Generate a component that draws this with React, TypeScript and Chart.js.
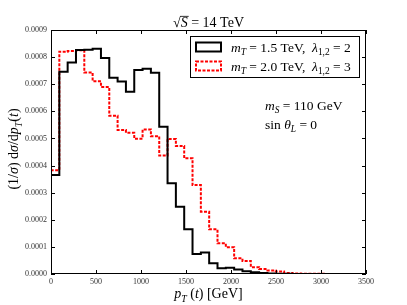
import { useEffect, useRef } from 'react';
import { Chart, registerables } from 'chart.js';

Chart.register(...registerables);

// Histogram bin width in GeV (bins start at 0)
const BIN_WIDTH = 92.5;

// m_T = 1.5 TeV, lambda = 2 (black solid)
const BLACK_VALUES = [
  0.000365, 0.000746, 0.00078, 0.000826, 0.000827, 0.000831, 0.000797, 0.000724,
  0.00071, 0.000672, 0.000752, 0.000757, 0.000742, 0.000543, 0.000335, 0.000248,
  0.000165, 0.000074, 0.000079, 0.0000395, 0.000021, 0.000023, 0.000017, 0.00001,
  0.000006, 0.000004, 0.000002, 0.000001, 0.000001, 0, 0, 0, 0, 0, 0, 0, 0, 0,
];

// m_T = 2.0 TeV, lambda = 3 (red dashed)
const RED_VALUES = [
  0.000383, 0.00082, 0.000823, 0.000825, 0.000743, 0.000711, 0.00069, 0.000584,
  0.000531, 0.000521, 0.000499, 0.000533, 0.000508, 0.000437, 0.000498, 0.000472,
  0.000427, 0.000328, 0.00023, 0.000165, 0.000113, 0.0000985, 0.000058, 0.000048,
  0.000025, 0.000018, 0.000013, 0.000009, 0.000004, 0.000002, 0.000001, 0.000001,
  0.0000005, 0, 0, 0, 0, 0,
];

const X_TICKS = [0, 500, 1000, 1500, 2000, 2500, 3000, 3500];
const Y_TICKS = [0, 0.0001, 0.0002, 0.0003, 0.0004, 0.0005, 0.0006, 0.0007, 0.0008, 0.0009];

const SERIF = '"Liberation Serif", "DejaVu Serif", serif';

type Seg = { t: string; i?: boolean; s?: boolean };

const TITLE_SEGS: Seg[] = [{ t: 'S', i: true }, { t: ' = 14 TeV' }];
const X_TITLE_SEGS: Seg[] = [
  { t: 'p', i: true }, { t: 'T', i: true, s: true }, { t: ' (' }, { t: 't', i: true }, { t: ') [GeV]' },
];
const Y_TITLE_SEGS: Seg[] = [
  { t: '(1/' }, { t: 'σ', i: true }, { t: ') d' }, { t: 'σ', i: true }, { t: '/d' },
  { t: 'p', i: true }, { t: 'T', i: true, s: true }, { t: '(' }, { t: 't', i: true }, { t: ')' },
];
const LEGEND_ROWS: Seg[][] = [
  [{ t: 'm', i: true }, { t: 'T', i: true, s: true }, { t: ' = 1.5 TeV,  ' }, { t: 'λ', i: true }, { t: '1,2', s: true }, { t: ' = 2' }],
  [{ t: 'm', i: true }, { t: 'T', i: true, s: true }, { t: ' = 2.0 TeV,  ' }, { t: 'λ', i: true }, { t: '1,2', s: true }, { t: ' = 3' }],
];
const ANNOT_ROWS: Seg[][] = [
  [{ t: 'm', i: true }, { t: 'S', i: true, s: true }, { t: ' = 110 GeV' }],
  [{ t: 'sin ' }, { t: 'θ', i: true }, { t: 'L', i: true, s: true }, { t: ' = 0' }],
];

function toSteps(values: number[]) {
  const pts: { x: number; y: number }[] = [{ x: 0, y: 0 }];
  values.forEach((v, i) => pts.push({ x: i * BIN_WIDTH, y: v }));
  pts.push({ x: values.length * BIN_WIDTH, y: values[values.length - 1] });
  pts.push({ x: values.length * BIN_WIDTH, y: 0 });
  return pts;
}

function segFont(seg: Seg, size: number) {
  return `${seg.i ? 'italic ' : ''}${seg.s ? size * 0.7 : size}px ${SERIF}`;
}

function richWidth(ctx: CanvasRenderingContext2D, segs: Seg[], size: number) {
  let w = 0;
  for (const s of segs) {
    ctx.font = segFont(s, size);
    w += ctx.measureText(s.t).width;
  }
  return w;
}

function drawRich(
  ctx: CanvasRenderingContext2D, segs: Seg[], x: number, y: number, size: number,
  align: 'left' | 'center', color = '#000'
) {
  const total = richWidth(ctx, segs, size);
  let cx = align === 'center' ? x - total / 2 : x;
  ctx.textAlign = 'left';
  ctx.textBaseline = 'alphabetic';
  ctx.fillStyle = color;
  for (const s of segs) {
    ctx.font = segFont(s, size);
    ctx.fillText(s.t, cx, y + (s.s ? size * 0.25 : 0));
    cx += ctx.measureText(s.t).width;
  }
  return total;
}

const decorPlugin = {
  id: 'decor',
  afterDraw(chart: any) {
    const ctx: CanvasRenderingContext2D = chart.ctx;
    const { left, right, top, bottom } = chart.chartArea;
    const xs = chart.scales.x;
    const ys = chart.scales.y;
    ctx.save();
    // frame
    ctx.strokeStyle = '#000';
    ctx.lineWidth = 1;
    ctx.strokeRect(left + 0.5, top + 0.5, right - left - 1, bottom - top - 1);
    // inward ticks
    const tl = 4;
    ctx.beginPath();
    for (const v of X_TICKS) {
      const px = Math.round(xs.getPixelForValue(v)) + 0.5;
      ctx.moveTo(px, bottom); ctx.lineTo(px, bottom - tl);
      ctx.moveTo(px, top); ctx.lineTo(px, top + tl);
    }
    for (const v of Y_TICKS) {
      const py = Math.round(ys.getPixelForValue(v)) + 0.5;
      ctx.moveTo(left, py); ctx.lineTo(left + tl, py);
      ctx.moveTo(right, py); ctx.lineTo(right - tl, py);
    }
    ctx.stroke();

    // title  √S = 14 TeV
    const tSize = 14;
    ctx.font = `${tSize}px ${SERIF}`;
    const rootW = ctx.measureText('√').width;
    const restW = richWidth(ctx, TITLE_SEGS, tSize);
    const tx = (left + right) / 2 - (rootW + restW) / 2;
    const ty = 27;
    ctx.fillStyle = '#000';
    ctx.textAlign = 'left';
    ctx.textBaseline = 'alphabetic';
    ctx.fillText('√', tx, ty);
    ctx.font = `italic ${tSize}px ${SERIF}`;
    const sW = ctx.measureText('S').width;
    ctx.beginPath();
    ctx.lineWidth = 0.8;
    ctx.moveTo(tx + rootW - 0.5, ty - tSize * 0.76);
    ctx.lineTo(tx + rootW + sW + 1, ty - tSize * 0.76);
    ctx.stroke();
    drawRich(ctx, TITLE_SEGS, tx + rootW, ty, tSize, 'left');

    // x title
    drawRich(ctx, X_TITLE_SEGS, (left + right) / 2, 298, 14, 'center');

    // y title
    ctx.save();
    ctx.translate(18, (top + bottom) / 2 - 3);
    ctx.rotate(-Math.PI / 2);
    drawRich(ctx, Y_TITLE_SEGS, 0, 0, 14, 'center');
    ctx.restore();

    // legend
    const lx = 190.5, ly = 36.5, lw = 169, lh = 41;
    ctx.fillStyle = '#fff';
    ctx.fillRect(lx, ly, lw, lh);
    ctx.lineWidth = 1;
    ctx.strokeStyle = '#000';
    ctx.strokeRect(lx, ly, lw, lh);
    const rowY = [47, 66];
    const colors = ['#000', '#ff0000'];
    rowY.forEach((cy, i) => {
      ctx.save();
      ctx.lineWidth = 2;
      ctx.strokeStyle = colors[i];
      ctx.setLineDash(i === 1 ? [3, 1.5] : []);
      ctx.strokeRect(196, cy - 4.5, 25, 9);
      ctx.restore();
      drawRich(ctx, LEGEND_ROWS[i], 231, cy + 4.5, 13.5, 'left');
    });

    // annotations
    drawRich(ctx, ANNOT_ROWS[0], 265, 110, 13.5, 'left');
    drawRich(ctx, ANNOT_ROWS[1], 265, 129, 13.5, 'left');
    ctx.restore();
  },
};

export default function App() {
  const canvasRef = useRef<HTMLCanvasElement | null>(null);

  useEffect(() => {
    document.body.style.margin = '0';
    const canvas = canvasRef.current;
    if (!canvas) return;
    const chart = new Chart(canvas, {
      type: 'line',
      data: {
        datasets: [
          {
            label: 'm_T = 1.5 TeV, λ = 2',
            data: toSteps(BLACK_VALUES),
            borderColor: '#000',
            borderWidth: 2,
            stepped: 'before',
            pointRadius: 0,
            fill: false,
          },
          {
            label: 'm_T = 2.0 TeV, λ = 3',
            data: toSteps(RED_VALUES),
            borderColor: '#ff0000',
            borderWidth: 2,
            borderDash: [3, 1.5],
            stepped: 'before',
            pointRadius: 0,
            fill: false,
          },
        ],
      },
      options: {
        responsive: false,
        animation: false,
        devicePixelRatio: 1,
        layout: { padding: { top: 30, right: 41, left: 0, bottom: 0 } },
        plugins: { legend: { display: false }, tooltip: { enabled: false }, title: { display: false } },
        scales: {
          x: {
            type: 'linear',
            min: 0,
            max: 3500,
            afterBuildTicks: (s: any) => { s.ticks = X_TICKS.map((v) => ({ value: v })); },
            afterFit: (s: any) => { s.height = 31; },
            grid: { display: false, drawTicks: false },
            border: { display: false },
            ticks: {
              padding: 3,
              maxRotation: 0,
              autoSkip: false,
              color: '#333',
              font: { family: SERIF, size: 8 },
              callback: (v: any) => String(v),
            },
          },
          y: {
            type: 'linear',
            min: 0,
            max: 0.0009,
            afterBuildTicks: (s: any) => { s.ticks = Y_TICKS.map((v) => ({ value: v })); },
            afterFit: (s: any) => { s.width = 51; },
            grid: { display: false, drawTicks: false },
            border: { display: false },
            ticks: {
              padding: 4,
              autoSkip: false,
              color: '#333',
              font: { family: SERIF, size: 8 },
              callback: (v: any) => Number(v).toFixed(4),
            },
          },
        },
      },
      plugins: [decorPlugin],
    });
    return () => chart.destroy();
  }, []);

  return (
    <div style={{ width: 407, height: 305 }}>
      <canvas ref={canvasRef} width={407} height={305} style={{ display: 'block' }} />
    </div>
  );
}
